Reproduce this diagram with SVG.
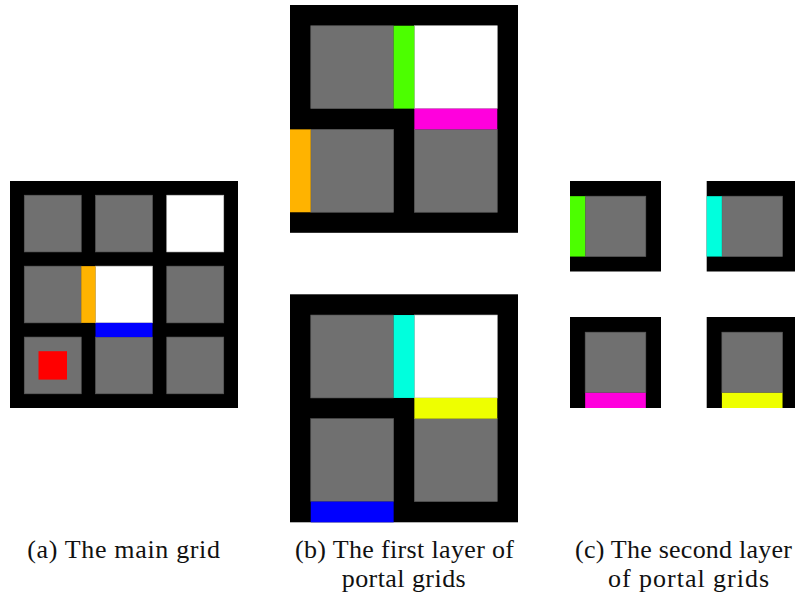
<svg xmlns="http://www.w3.org/2000/svg" width="795" height="596" viewBox="0 0 795 596">
  <style>
    .wall { fill: #000000; }
    .cell { fill: #707070; stroke: #5a5a5a; stroke-width: 0.6; }
    .free { fill: #ffffff; stroke: #c8c8c8; stroke-width: 0.6; }
  </style>
  <rect width="795" height="596" fill="#ffffff"/>

  <!-- (a) main 3x3 grid -->
  <g id="main-grid">
    <rect class="wall" x="10" y="181" width="228" height="227"/>
    <rect class="cell" x="24.25" y="195.19" width="57" height="56.75"/>
    <rect class="cell" x="95.5" y="195.19" width="57" height="56.75"/>
    <rect class="free" x="166.75" y="195.19" width="57" height="56.75"/>
    <rect class="cell" x="24.25" y="266.13" width="57" height="56.75"/>
    <rect class="free" x="95.5" y="266.13" width="57" height="56.75"/>
    <rect class="cell" x="166.75" y="266.13" width="57" height="56.75"/>
    <rect class="cell" x="24.25" y="337.06" width="57" height="56.75"/>
    <rect class="cell" x="95.5" y="337.06" width="57" height="56.75"/>
    <rect class="cell" x="166.75" y="337.06" width="57" height="56.75"/>
    <!-- portals -->
    <rect x="81.25" y="266.13" width="14.25" height="56.75" fill="#ffb300"/>
    <rect x="95.5" y="322.88" width="57" height="14.18" fill="#0000ff"/>
    <!-- agent -->
    <rect x="38.5" y="351.2" width="28.5" height="28.4" fill="#ff0000"/>
  </g>

  <!-- (b) first layer, upper portal grid -->
  <g id="portal-grid-1a">
    <rect class="wall" x="290" y="5" width="228" height="227.8"/>
    <rect class="cell" x="310.73" y="25.73" width="82.91" height="82.91"/>
    <rect class="free" x="414.36" y="25.73" width="82.91" height="82.91"/>
    <rect class="cell" x="310.73" y="129.36" width="82.91" height="82.91"/>
    <rect class="cell" x="414.36" y="129.36" width="82.91" height="82.91"/>
    <rect x="393.64" y="25.73" width="20.72" height="82.91" fill="#4cff00"/>
    <rect x="414.36" y="108.64" width="82.91" height="20.72" fill="#ff00dd"/>
    <rect x="290" y="129.36" width="20.73" height="82.91" fill="#ffb300"/>
  </g>

  <!-- (b) first layer, lower portal grid -->
  <g id="portal-grid-1b">
    <rect class="wall" x="290" y="294.3" width="228" height="228"/>
    <rect class="cell" x="310.73" y="315.03" width="82.91" height="82.91"/>
    <rect class="free" x="414.36" y="315.03" width="82.91" height="82.91"/>
    <rect class="cell" x="310.73" y="418.66" width="82.91" height="82.91"/>
    <rect class="cell" x="414.36" y="418.66" width="82.91" height="82.91"/>
    <rect x="393.64" y="315.03" width="20.72" height="82.91" fill="#00ffdd"/>
    <rect x="414.36" y="397.94" width="82.91" height="20.72" fill="#eeff00"/>
    <rect x="310.73" y="501.57" width="82.91" height="20.73" fill="#0000ff"/>
  </g>

  <!-- (c) second layer, four single-cell grids -->
  <g id="portal-grid-2a">
    <rect class="wall" x="570" y="181" width="91" height="90.5"/>
    <rect class="cell" x="585.17" y="196.17" width="60.66" height="60.4"/>
    <rect x="570" y="196.17" width="15.17" height="60.4" fill="#4cff00"/>
  </g>
  <g id="portal-grid-2b">
    <rect class="wall" x="706.7" y="181" width="91" height="90.5"/>
    <rect class="cell" x="721.87" y="196.17" width="60.66" height="60.4"/>
    <rect x="706.7" y="196.17" width="15.17" height="60.4" fill="#00ffdd"/>
  </g>
  <g id="portal-grid-2c">
    <rect class="wall" x="570" y="317" width="91" height="91"/>
    <rect class="cell" x="585.17" y="332.17" width="60.66" height="60.66"/>
    <rect x="585.17" y="392.83" width="60.66" height="15.17" fill="#ff00dd"/>
  </g>
  <g id="portal-grid-2d">
    <rect class="wall" x="706.7" y="317" width="91" height="91"/>
    <rect class="cell" x="721.87" y="332.17" width="60.66" height="60.66"/>
    <rect x="721.87" y="392.83" width="60.66" height="15.17" fill="#eeff00"/>
  </g>

  <!-- captions -->
  <g id="captions" font-family="Liberation Serif" font-size="26" fill="#111111">
    <text x="27.3" y="558.3" textLength="192.7" lengthAdjust="spacing">(a) The main grid</text>
    <text x="295" y="558.3" textLength="219" lengthAdjust="spacing">(b) The first layer of</text>
    <text x="341.7" y="587" textLength="124" lengthAdjust="spacing">portal grids</text>
    <text x="575" y="558.3" textLength="217" lengthAdjust="spacing">(c) The second layer</text>
    <text x="608" y="587" textLength="161" lengthAdjust="spacing">of portal grids</text>
  </g>
</svg>
